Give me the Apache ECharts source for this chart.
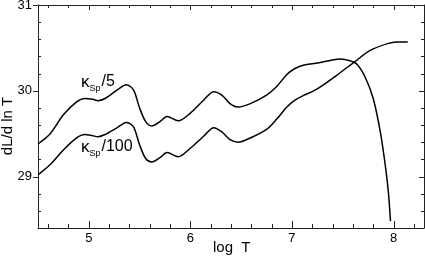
<!DOCTYPE html>
<html>
<head>
<meta charset="utf-8">
<script src="https://cdn.jsdelivr.net/npm/echarts@6/dist/echarts.min.js"></script>
<style>
html,body{margin:0;padding:0;background:#fff;}
#c{width:425px;height:258px;}
</style>
</head>
<body>
<div id="c"></div>
<script>
// log T values and dL/d ln T values
const upperX = [4.50,4.62,4.75,4.88,4.96,5.04,5.09,5.16,5.28,5.37,5.44,5.50,5.56,5.62,5.70,5.77,5.88,6.00,6.13,6.23,6.31,6.39,6.47,6.59,6.75,6.85,6.95,7.03,7.12,7.28,7.40,7.48,7.57,7.64,7.72,7.80,7.87,7.92,7.95,7.97];
const upperY = [29.38,29.50,29.72,29.87,29.91,29.90,29.885,29.91,30.01,30.07,30.01,29.80,29.64,29.59,29.64,29.70,29.65,29.74,29.89,29.99,29.95,29.85,29.81,29.85,29.95,30.05,30.19,30.26,30.30,30.33,30.36,30.37,30.35,30.31,30.16,29.91,29.52,29.12,28.81,28.48];
const lowerX = [4.50,4.62,4.75,4.88,4.96,5.04,5.09,5.16,5.28,5.37,5.44,5.50,5.56,5.62,5.70,5.77,5.88,6.00,6.13,6.23,6.31,6.39,6.47,6.59,6.75,6.85,6.95,7.03,7.12,7.20,7.31,7.44,7.62,7.77,7.94,8.03,8.14];
const lowerY = [29.02,29.14,29.31,29.45,29.49,29.475,29.465,29.49,29.57,29.63,29.58,29.37,29.21,29.17,29.22,29.28,29.23,29.33,29.47,29.57,29.52,29.43,29.40,29.45,29.55,29.67,29.81,29.89,29.95,29.99,30.07,30.18,30.34,30.47,30.55,30.57,30.57];

// axis ranges and tick values
const xRange = [4.5, 8.3];
const yRange = [28.4, 31];
const xMajorTicks = [5,6,7,8];
const xMinorTicks = [4.6,4.8,5.2,5.4,5.6,5.8,6.2,6.4,6.6,6.8,7.2,7.4,7.6,7.8,8.2];
const yMajorTicks = [29,30,31];
const yMinorTicks = [28.6,28.8,29.2,29.4,29.6,29.8,30.2,30.4,30.6,30.8];

const xName = 'log  T';
const yName = 'dL/d ln T';
const labelUpper = ['κ','Sp','/5'];
const labelLower = ['κ','Sp','/100'];

const FONT = '"Liberation Sans", Arial, Helvetica, sans-serif';
const AX = '#222';

function pairs(xs, ys){ return xs.map((x,i)=>[x, ys[i]]); }

function xAxisDef(pos, showLabel){
  return {
    type:'value', min:xRange[0], max:xRange[1], position:pos,
    axisLine:{show:true, onZero:false, lineStyle:{color:AX, width:1}},
    axisTick:{show:false},
    axisLabel:{show:showLabel, customValues:xMajorTicks, margin:4, fontSize:13, color:'#000', fontFamily:FONT},
    splitLine:{show:false}
  };
}
function yAxisDef(pos, showLabel){
  return {
    type:'value', min:yRange[0], max:yRange[1], position:pos,
    axisLine:{show:true, onZero:false, lineStyle:{color:AX, width:1}},
    axisTick:{show:false},
    axisLabel:{show:showLabel, customValues:yMajorTicks, margin:6, fontSize:13, color:'#000', fontFamily:FONT},
    splitLine:{show:false}
  };
}

// tick marks drawn through the axes' own scale (api.coord)
function tickSeries(points, dx, dy, len){
  return {
    type:'custom', coordinateSystem:'cartesian2d', xAxisIndex:0, yAxisIndex:0,
    silent:true, clip:false, z:5,
    data:points,
    renderItem:function(params, api){
      const p = api.coord([api.value(0), api.value(1)]);
      const x = Math.round(p[0]) + (dx === 0 ? 0.5 : 0);
      const y = Math.round(p[1]) + (dy === 0 ? 0.5 : 0);
      return {type:'line', shape:{x1:x, y1:y, x2:x + dx*len, y2:y + dy*len},
              style:{stroke:AX, lineWidth:1}};
    }
  };
}
const onBottom = v => v.map(x => [x, yRange[0]]);
const onTop = v => v.map(x => [x, yRange[1]]);
const onLeft = v => v.map(y => [xRange[0], y]);
const onRight = v => v.map(y => [xRange[1], y]);

function richLabel(parts){
  return '{k|'+parts[0]+'}{s|'+parts[1]+'}{n|'+parts[2]+'}';
}
const rich = {
  k:{fontSize:17, fontFamily:FONT, fill:'#000', lineHeight:17, verticalAlign:'top'},
  s:{fontSize:9, fontFamily:FONT, fill:'#000', lineHeight:9, verticalAlign:'top', padding:[10,1,0,0]},
  n:{fontSize:16, fontFamily:FONT, fill:'#000', lineHeight:17, verticalAlign:'top'}
};

const chart = echarts.init(document.getElementById('c'), null, {renderer:'canvas'});
chart.setOption({
  animation:false,
  backgroundColor:'#fff',
  grid:{left:38, right:1, top:5, bottom:30, containLabel:false, outerBoundsMode:'none'},
  xAxis:[ xAxisDef('bottom', true), xAxisDef('top', false) ],
  yAxis:[ yAxisDef('left', true), yAxisDef('right', false) ],
  series:[
    {type:'line', xAxisIndex:0, yAxisIndex:0, data:pairs(upperX, upperY), smooth:0.3, showSymbol:false, symbol:'none',
     lineStyle:{color:'#000', width:1.5}},
    {type:'line', xAxisIndex:0, yAxisIndex:0, data:pairs(lowerX, lowerY), smooth:0.3, showSymbol:false, symbol:'none',
     lineStyle:{color:'#000', width:1.5}},
    tickSeries(onBottom(xMajorTicks), 0, -1, 7),
    tickSeries(onBottom(xMinorTicks), 0, -1, 4),
    tickSeries(onTop(xMajorTicks), 0, 1, 5),
    tickSeries(onTop(xMinorTicks), 0, 1, 3),
    tickSeries(onLeft(yMajorTicks), -1, 0, 5),
    tickSeries(onLeft(yMinorTicks), 1, 0, 3),
    tickSeries(onRight(yMajorTicks), -1, 0, 5),
    tickSeries(onRight(yMinorTicks), -1, 0, 3)
  ],
  graphic:[
    {type:'text', left:213, top:240, style:{text:xName, fontSize:15, fontFamily:FONT, fill:'#000'}},
    {type:'text', x:8, y:126, rotation:Math.PI/2, style:{text:yName, fontSize:15, fontFamily:FONT, fill:'#000', align:'center', verticalAlign:'middle'}},
    {type:'text', x:81, y:74, style:{text:richLabel(labelUpper), rich:rich}},
    {type:'text', x:81, y:139, style:{text:richLabel(labelLower), rich:rich}}
  ]
});
</script>
</body>
</html>
